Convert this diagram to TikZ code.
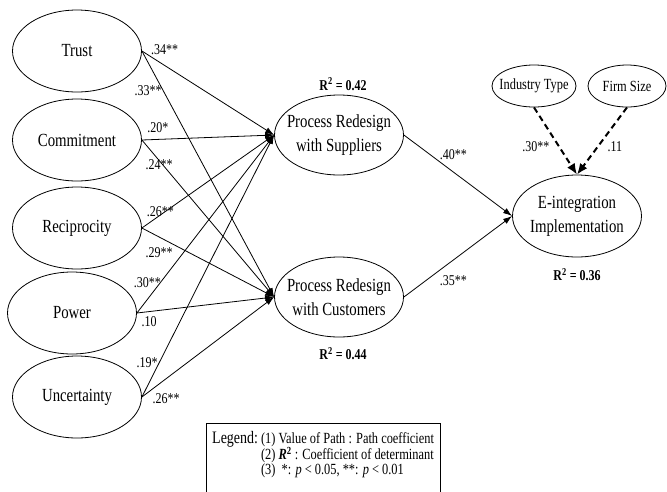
\documentclass[tikz,border=0pt]{standalone}
\usepackage{fontspec}
\setmainfont{Liberation Serif}[FakeStretch=0.8]
\usetikzlibrary{positioning,arrows.meta,calc,shapes.geometric}
\tikzset{
  flow/.style={-{Latex[length=9pt,width=6pt]},line width=0.8pt},
  dashflow/.style={-{Latex[length=11pt,width=9pt]},line width=2pt,dash pattern=on 6pt off 4pt},
  construct/.style={ellipse,draw,line width=0.8pt,minimum width=129pt,minimum height=82pt,
    inner xsep=-12pt,inner ysep=0pt,align=center,font=\fontsize{18.5}{24}\selectfont},
  smallvar/.style={ellipse,draw,line width=0.8pt,minimum height=42pt,
    inner xsep=-12pt,inner ysep=0pt,font=\fontsize{15.5}{18}\selectfont},
  coef/.style={font=\fontsize{15}{18}\selectfont,inner sep=1pt},
  rsq/.style={font=\fontsize{15}{18}\selectfont\bfseries,inner sep=1pt},
  legendtext/.style={font=\fontsize{15.5}{13.5}\selectfont,inner xsep=6pt,inner ysep=8pt}
}

\begin{document}
\begin{tikzpicture}[x=1pt,y=-1pt]
  \useasboundingbox (0,0) rectangle (667,491);
  \node[construct] (trust) at (77,51) {Trust};
  \node[construct] (commit) at (77,140) {Commitment};
  \node[construct] (recip) at (77,228) {Reciprocity};
  \node[construct] (power) at (72,313) {Power};
  \node[construct] (uncert) at (77,397) {Uncertainty};
  \node[construct,minimum height=80pt] (supp) at (339,135) {Process Redesign\\with Suppliers};
  \node[construct,minimum height=80pt] (cust) at (339,297) {Process Redesign\\with Customers};
  \node[construct] (ei) at (577,216) {E-integration\\Implementation};
  \node[smallvar,minimum width=84pt] (ind) at (534,86) {Industry Type};
  \node[smallvar,minimum width=78pt] (firm) at (627,86) {Firm Size};
  \node[rsq,above=3pt of supp,xshift=4pt] (rsupp) {R\textsuperscript{2} = 0.42};
  \node[rsq,below=9pt of cust,xshift=4pt] (rcust) {R\textsuperscript{2} = 0.44};
  \node[rsq,below=9.5pt of ei] (rei) {R\textsuperscript{2} = 0.36};
  \draw[flow] (trust.east) -- node[coef,pos=0.06,anchor=south west] {.34**} (supp.west);
  \draw[flow] (trust.east) -- node[coef,pos=0.16,anchor=east] {.33**} (cust.west);
  \draw[flow] (commit.east) -- node[coef,pos=0.12,above=5pt] {.20*} (supp.west);
  \draw[flow] (commit.east) -- node[coef,pos=0.16,xshift=-4pt] {.24**} (cust.west);
  \draw[flow] (recip.east) -- node[coef,pos=0.14,yshift=3pt] {.26**} (supp.west);
  \draw[flow] (recip.east) -- node[coef,pos=0.13,below=9pt] {.29**} (cust.west);
  \draw[flow] (power.east) -- node[coef,pos=0.17,anchor=east,xshift=2pt] {.30**} (supp.west);
  \draw[flow] (power.east) -- node[coef,pos=0.09,below=4pt] {.10} (cust.west);
  \draw[flow] (uncert.east) -- node[coef,pos=0.13,anchor=east] {.19*} (supp.west);
  \draw[flow] (uncert.east) -- node[coef,pos=0.07,anchor=north west,yshift=-2pt] {.26**} (cust.west);
  \draw[flow] (supp.east) -- node[coef,pos=0.32,anchor=south west] {.40**} (ei.west);
  \draw[flow] (cust.east) -- node[coef,pos=0.32,anchor=north west,yshift=-3pt] {.35**} (ei.west);
  \draw[dashflow] (ind.south) -- node[coef,pos=0.59,left=8pt] {.30**} (ei.north);
  \draw[dashflow] (firm.south) -- node[coef,pos=0.59,right=8pt] {.11} (ei.north);
  \node[legendtext,anchor=north west] (legend) at (206,423) {%
    \begin{tabular}{@{}l@{\hspace{3pt}}l@{}}
      {\fontsize{17.5}{13.5}\selectfont Legend:} & (1) Value of Path : Path coefficient\\
      & (2) \textbf{\textit{R}\textsuperscript{2}} : Coefficient of determinant\\
      & (3)\ \ *: \textit{p} < 0.05, **: \textit{p} < 0.01
    \end{tabular}};
  \draw[line width=0.8pt] (legend.north west) rectangle ([yshift=-15pt]legend.south east);
\end{tikzpicture}
\end{document}
